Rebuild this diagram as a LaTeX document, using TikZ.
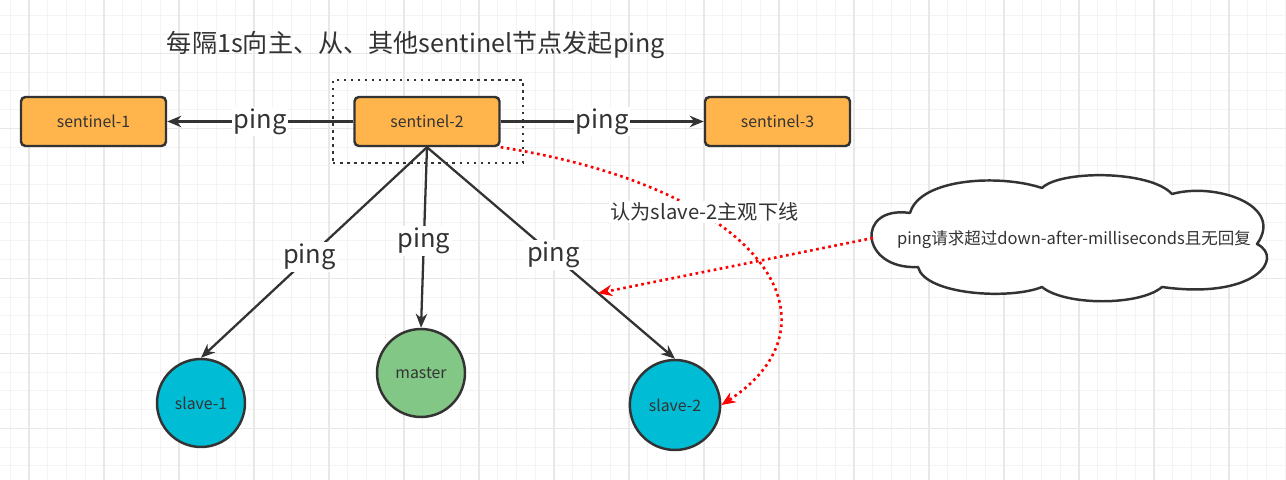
\documentclass[tikz,border=0pt]{standalone}
\usepackage{fontspec}
\setmainfont{Noto Sans CJK SC}
\usetikzlibrary{arrows.meta,shapes.geometric,calc}

\definecolor{sentinelorange}{HTML}{FFB54C}
\definecolor{slavecyan}{HTML}{00BCD4}
\definecolor{mastergreen}{HTML}{82C785}
\definecolor{linegray}{HTML}{333333}
\definecolor{gridminor}{HTML}{F4F4F4}
\definecolor{gridmajor}{HTML}{E8E8E8}

\tikzset{
  sentinel/.style={draw=linegray, fill=sentinelorange, rounded corners=2.5pt,
    line width=1.4pt, minimum width=2.9cm, minimum height=0.98cm,
    text=linegray, font=\fontsize{9}{11}\selectfont},
  redis/.style={draw=linegray, line width=1.4pt, text=linegray,
    font=\fontsize{9}{11}\selectfont},
  link/.style={draw=linegray, line width=1.3pt, -{Stealth[length=8pt,width=6.5pt]}},
  pinglabel/.style={fill=white, inner sep=1pt, text=linegray,
    font=\fontsize{14.5}{17}\selectfont},
  suspect/.style={draw=red, line width=1.5pt, dash pattern=on 1.5pt off 2pt,
    -{Stealth[length=8pt,width=6.5pt,red]}}
}

\begin{document}
\begin{tikzpicture}[x=0.02cm, y=0.02cm]
  \useasboundingbox (0,0) rectangle (1286,480);

  % Grid background
  \fill[white] (0,0) rectangle (1286,480);
  \foreach \i in {0,...,68}
    \draw[gridminor, line width=0.6pt] ({10.25+18.75*\i},0) -- ++(0,480);
  \foreach \j in {0,...,24}
    \draw[gridminor, line width=0.6pt] (0,{480-15.8-18.75*\j}) -- ++(1286,0);
  \foreach \i in {0,...,16}
    \draw[gridmajor, line width=0.6pt] ({29+75*\i},0) -- ++(0,480);
  \foreach \j in {0,...,5}
    \draw[gridmajor, line width=0.6pt] (0,{480-53.3-75*\j}) -- ++(1286,0);

  % Title
  \node[text=linegray, font=\fontsize{14.3}{17}\selectfont] (title) at (416,435)
    {每隔1s向主、从、其他sentinel节点发起ping};

  % Sentinels
  \node[sentinel] (sen1) at (93.5,358.5) {sentinel-1};
  \node[sentinel] (sen2) at (427,358.5) {sentinel-2};
  \node[sentinel] (sen3) at (777.5,358.5) {sentinel-3};
  \node[draw=linegray, line width=1.4pt, dash pattern=on 1.4pt off 2.6pt,
    minimum width=3.8cm, minimum height=1.66cm] (sel) at (428,358.5) {};

  % Master and slaves
  \node[redis, circle, fill=slavecyan, minimum size=1.76cm] (slave1) at (201,77) {slave-1};
  \node[redis, circle, fill=mastergreen, minimum size=1.76cm] (master) at (421,107) {master};
  \node[redis, ellipse, fill=slavecyan, minimum width=1.72cm, minimum height=1.8cm] (slave2) at (675,75) {slave-2};

  % Pings
  \draw[link] (sen2.west) -- node[pinglabel] (ping1) {ping} (sen1.east);
  \draw[link] (sen2.east) -- node[pinglabel] (ping2) {ping} (sen3.west);
  \draw[link] (sen2.south) -- node[pinglabel, pos=0.52] (ping3) {ping} (slave1.north);
  \draw[link] (sen2.south) -- node[pinglabel, pos=0.52] (ping4) {ping} (master.north);
  \draw[link] (sen2.south) -- node[pinglabel, pos=0.51] (ping5) {ping} (slave2.north);

  % Timeout cloud
  \draw[linegray, fill=white, line width=1.4pt, line join=round]
    (910,267) .. controls (920,302) and (1000,306) .. (1042,292)
    .. controls (1060,310) and (1150,310) .. (1172,286)
    .. controls (1215,298) and (1285,275) .. (1257,236)
    .. controls (1285,222) and (1255,180) .. (1162,193)
    .. controls (1140,174) and (1065,174) .. (1042,193)
    .. controls (1010,180) and (925,185) .. (918,213)
    .. controls (860,210) and (855,275) .. cycle;
  \coordinate (timeout) at (873,242);
  \node[text=linegray, font=\fontsize{9.4}{11}\selectfont] (reason) at (1074,240)
    {ping请求超过down-after-milliseconds且无回复};
  \coordinate (hit) at ($(sen2.south)!0.69!(slave2.north)$);
  \draw[suspect] (timeout) -- (hit);

  % Subjective down
  \draw[suspect] (sen2.south east) .. controls (770,290) and (845,155) .. (slave2.east);
  \node[fill=white, inner sep=1pt, text=linegray, font=\fontsize{11.5}{14}\selectfont]
    (sdown) at (704.5,268) {认为slave-2主观下线};

\end{tikzpicture}
\end{document}
